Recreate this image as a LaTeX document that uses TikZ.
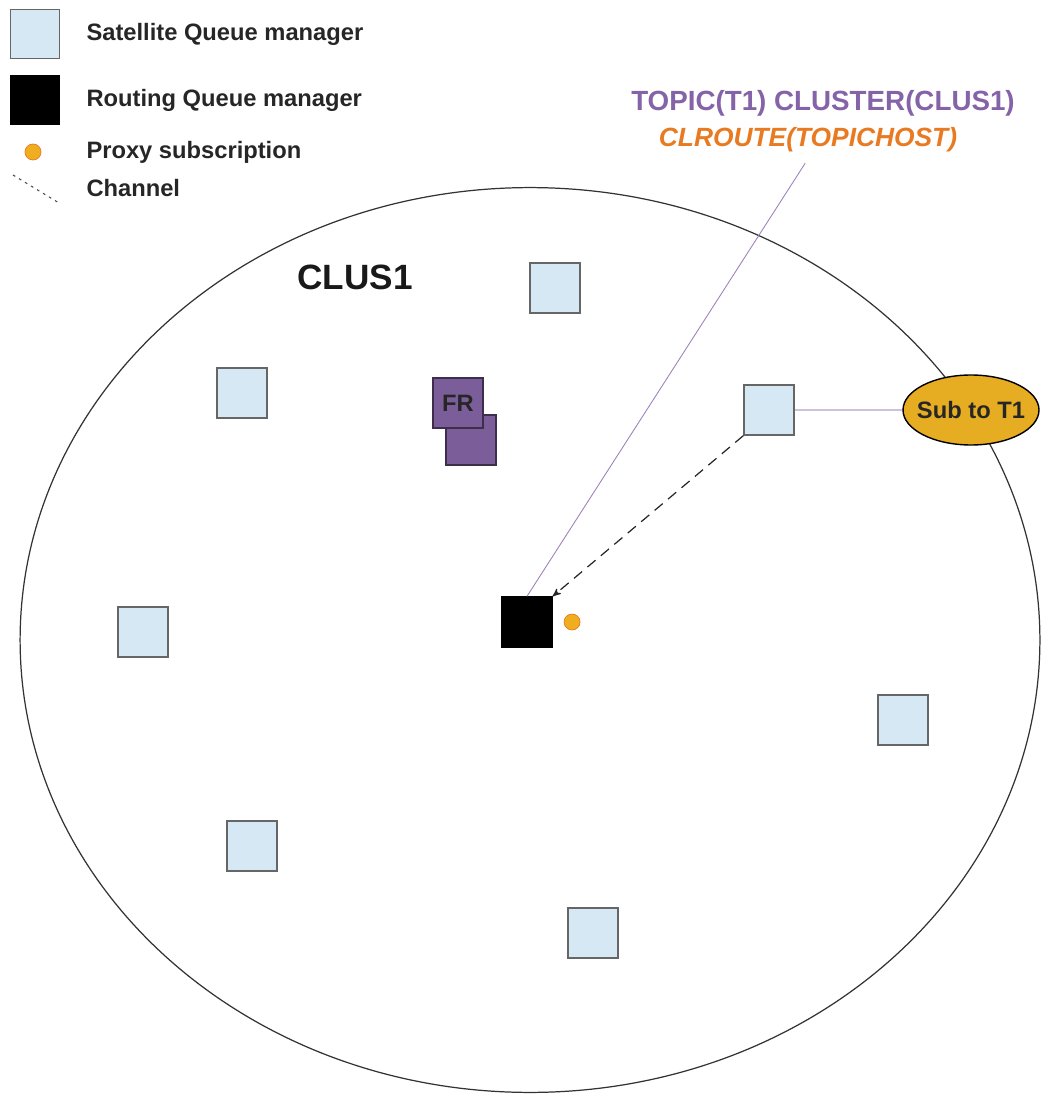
\documentclass[tikz,border=0pt]{standalone}
\usepackage{fontspec}
\setmainfont{Liberation Sans}
\usepackage{xcolor}
\definecolor{colorSatellite}{HTML}{D5E8F3}
\definecolor{colorFR}{HTML}{7B5E99}
\definecolor{colorTopic}{HTML}{8463A8}
\definecolor{colorRoute}{HTML}{E87A22}
\definecolor{colorProxy}{HTML}{EFAE1F}
\definecolor{colorSub}{HTML}{E7AD22}
\colorlet{colorLink}{colorTopic!40!white}
\colorlet{colorLegend}{black!85}
\usetikzlibrary{arrows, positioning, shapes.geometric}
\tikzset{every node/.style={font=\bfseries}}

\begin{document}
\begin{tikzpicture}[x=0.02cm, y=-0.02cm, >=stealth', thick,
  satellite/.style={draw=black!60, fill=colorSatellite, line width=0.8pt, minimum size=1cm, inner sep=0pt},
  routing/.style={draw=black, fill=black, minimum size=1cm, inner sep=0pt},
  proxy/.style={circle, draw=colorRoute, fill=colorProxy, line width=0.4pt, minimum size=0.32cm, inner sep=0pt},
  frbox/.style={draw=black!50!colorFR, fill=colorFR, line width=0.6pt, minimum size=1cm, inner sep=0pt},
  legendtext/.style={anchor=west, text=colorLegend, font=\bfseries\fontsize{13.5}{16}\selectfont}]
\useasboundingbox (0,0) rectangle (1040,1094);
\node[ellipse, draw=black!80, line width=0.7pt, minimum width=20.4cm, minimum height=18.1cm, inner sep=0pt, outer sep=0pt] (clus) at (530,640) {};
\node[font=\bfseries\fontsize{20}{24}\selectfont, text=black!90] (clusName) at (355,277) {CLUS1};

\node[satellite, minimum size=0.97cm] (leg1) at (35,34) {};
\node[legendtext, right=0.4cm of leg1] (leg1t) {Satellite Queue manager};
\node[routing, minimum size=0.97cm] (leg2) at (35,100) {};
\node[legendtext, right=0.4cm of leg2] (leg2t) {Routing Queue manager};
\node[proxy] (leg3) at (33,152) {};
\node[legendtext] (leg3t) at (leg2t.west |- leg3) {Proxy subscription};
\coordinate (leg4a) at (13,175);
\coordinate (leg4b) at (59,203);
\draw[black!70, line width=0.6pt, dash pattern=on 1.5pt off 2.5pt] (leg4a) -- (leg4b);
\node[legendtext] (leg4t) at (leg2t.west |- 0,188) {Channel};

\node[satellite] (qmS1) at (555,288) {};
\node[satellite] (qmS2) at (242,393) {};
\node[satellite] (qmS3) at (769,410) {};
\node[satellite] (qmS4) at (143,632) {};
\node[satellite] (qmS5) at (903,720) {};
\node[satellite] (qmS6) at (252,846) {};
\node[satellite] (qmS7) at (593,933) {};
\node[routing] (qmR) at (527,622) {};
\node[proxy, right=0.22cm of qmR] (proxyR) {};

\node[frbox] (fr2) at (471,440) {};
\node[frbox, text=black!85, font=\bfseries\fontsize{13.5}{16}\selectfont] (fr1) at (458,403) {FR};

\node[ellipse, draw=black, fill=colorSub, line width=0.8pt, minimum width=2.72cm, minimum height=1.4cm, inner xsep=-3.5pt, inner ysep=0pt, font=\bfseries\fontsize{13.5}{16}\selectfont, text=black!85] (sub) at (971,410) {Sub to T1};

\node[text=colorTopic, font=\bfseries\fontsize{15.8}{18}\selectfont] (topicA) at (823,103) {TOPIC(T1) CLUSTER(CLUS1)};
\node[text=colorRoute, font=\bfseries\itshape\fontsize{15}{18}\selectfont] (topicB) at (808,140) {CLROUTE(TOPICHOST)};

\draw[colorTopic!80, line width=0.5pt, shorten <=3pt] (topicB.south) -- (qmR.north);
\draw[colorLink, line width=1.4pt] (qmS3) -- (sub);
\draw[->, black!85, line width=0.7pt, dash pattern=on 6pt off 4pt] (qmS3.south west) -- (qmR.north east);
\end{tikzpicture}
\end{document}
